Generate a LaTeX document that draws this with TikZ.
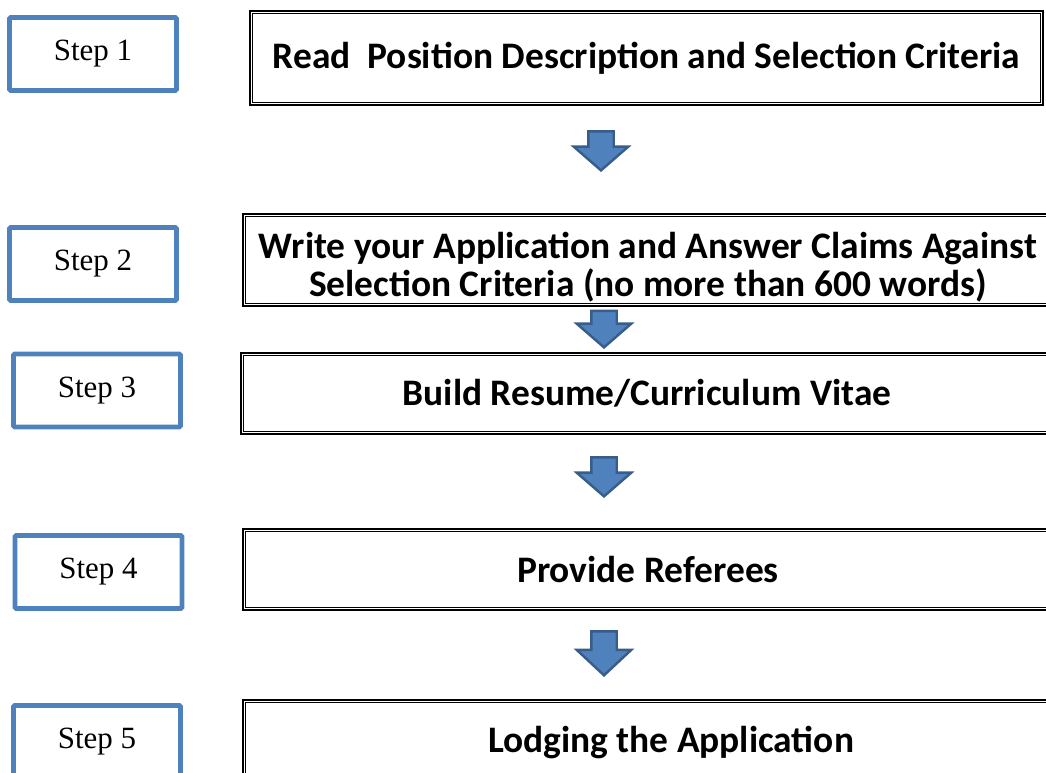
\documentclass[tikz,border=0pt]{standalone}
\usepackage{fontspec}
\setmainfont{Liberation Serif}
\newfontfamily\calibri{Carlito}
\usepackage{tikz}
\usetikzlibrary{positioning,shapes.arrows}
\definecolor{stepblue}{HTML}{4F81BD}
\definecolor{arrowline}{HTML}{385D8A}
\tikzset{
  stepbox/.style={
    draw=stepblue,
    line width=2.8pt,
    rounded corners=0.8pt,
    rectangle,
    minimum width=3.34cm,
    minimum height=1.46cm,
    font=\fontsize{17.6}{21}\selectfont,
    inner sep=0pt
  },
  mainbox/.style={
    draw,
    line width=1.6pt,
    rectangle,
    align=center,
    inner sep=0pt,
    font=\calibri\bfseries\fontsize{21.3}{22}\selectfont,
    append after command={
        ([shift={(0.08cm,-0.08cm)}]\tikzlastnode.north west)
        edge[line width=0.7pt, to path={(\tikztostart) rectangle (\tikztotarget)}]
        ([shift={(-0.08cm,0.08cm)}]\tikzlastnode.south east)
        }
  },
  downarrow/.style={
    single arrow,
    shape border rotate=270,
    draw=arrowline,
    fill=stepblue,
    line width=1.4pt,
    inner sep=0.23cm,
    minimum width=0pt,
    minimum height=0.78cm,
    single arrow head extend=0.29cm,
    single arrow tip angle=98,
    anchor=tip
  }
}
\begin{document}
\begin{tikzpicture}[x=0.02cm,y=-0.02cm]
\useasboundingbox (0,0) rectangle (1046,773);

				% steps on the left
				\node[stepbox] (s1) at (93,54)    {Step 1};
				\node[stepbox] (s2) at (93,264)   {Step 2};
				\node[stepbox] (s3) at (97,390.5) {Step 3};
				\node[stepbox] (s4) at (98.5,572) {Step 4};
				\node[stepbox] (s5) at (97,742)   {Step 5};

				% boxes on the right
				\node[mainbox, minimum width=15.86cm, minimum height=1.88cm] (b1) at (646.5,58)
					{Read~ Position Description and Selection Criteria};
				\node[mainbox, minimum width=16.20cm, minimum height=1.84cm] (b2) at (648,260)
					{\rule{0pt}{23pt}Write your Application and Answer Claims Against\\Selection Criteria (no more than 600 words)};
				\node[mainbox, minimum width=16.24cm, minimum height=1.62cm] (b3) at (647,393.5)
					{Build Resume/Curriculum Vitae};
				\node[mainbox, minimum width=16.20cm, minimum height=1.62cm] (b4) at (648,569.5)
					{Provide Referees};
				\node[mainbox, minimum width=17.12cm, minimum height=1.72cm] (b5) at (671,743)
					{Lodging the Application};

				% block arrows
				\node[downarrow] (a1) at (601,172) {};
				\node[downarrow, minimum height=0.72cm] (a2) at (604,349) {};
				\node[downarrow] (a3) at (604,498) {};
				\node[downarrow, minimum height=0.88cm, single arrow tip angle=94] (a4) at (604,677) {};

\end{tikzpicture}
\end{document}
